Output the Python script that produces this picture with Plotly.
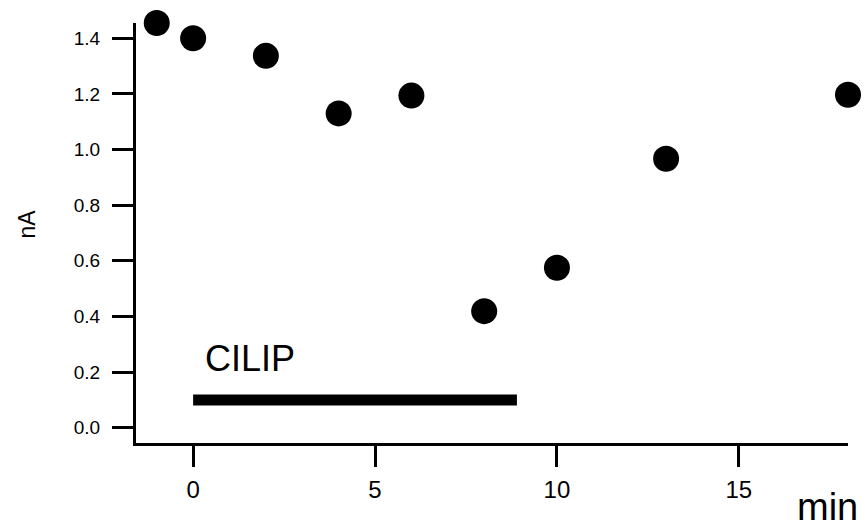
import plotly.graph_objects as go

# Data
time_min = [-1, 0, 2, 4, 6, 8, 10, 13, 18]
current_nA = [1.455, 1.40, 1.337, 1.13, 1.194, 0.419, 0.575, 0.967, 1.197]

# CILIP application period
cilip_start = 0
cilip_end = 8.9
cilip_level = 0.1
cilip_label = "CILIP"

x_ticks = [0, 5, 10, 15]
y_ticks = [0.0, 0.2, 0.4, 0.6, 0.8, 1.0, 1.2, 1.4]
y_tick_labels = ["0.0", "0.2", "0.4", "0.6", "0.8", "1.0", "1.2", "1.4"]

FONT = "Liberation Sans, Arial, sans-serif"

fig = go.Figure()

fig.add_trace(go.Scatter(
    x=[cilip_start, cilip_end], y=[cilip_level, cilip_level],
    mode="lines", line=dict(color="black", width=11),
    showlegend=False, hoverinfo="skip", cliponaxis=False,
))

fig.add_trace(go.Scatter(
    x=time_min, y=current_nA, mode="markers",
    marker=dict(color="black", size=26, line=dict(width=0)),
    showlegend=False, cliponaxis=False,
))

fig.add_annotation(
    x=cilip_start, y=cilip_level, xref="x", yref="y",
    text=cilip_label, showarrow=False, xanchor="left", yanchor="middle",
    xshift=10, yshift=41,
    font=dict(family=FONT, size=36, color="black"),
)

fig.add_annotation(
    x=1.0, y=0, xref="paper", yref="paper",
    text="min", showarrow=False, xanchor="right", yanchor="middle",
    xshift=12, yshift=-64,
    font=dict(family=FONT, size=38, color="black"),
)

fig.add_annotation(
    x=0, y=0.52, xref="paper", yref="paper",
    text="nA", showarrow=False, xanchor="center", yanchor="middle",
    xshift=-109, textangle=-90,
    font=dict(family=FONT, size=23, color="black"),
)

fig.update_xaxes(
    range=[-1.57, 18.0], tickvals=x_ticks, ticktext=[str(v) for v in x_ticks],
    showline=True, linecolor="black", linewidth=3,
    ticks="outside", ticklen=21, tickwidth=3, tickcolor="black",
    showgrid=False, zeroline=False,
    tickfont=dict(family=FONT, size=24, color="black"),
    ticklabelstandoff=2,
)
fig.update_yaxes(
    range=[-0.055, 1.455], tickvals=y_ticks, ticktext=y_tick_labels,
    showline=True, linecolor="black", linewidth=3,
    ticks="outside", ticklen=21, tickwidth=3, tickcolor="black",
    showgrid=False, zeroline=False,
    tickfont=dict(family=FONT, size=19, color="black"),
    ticklabelstandoff=8,
)

fig.update_layout(
    width=867, height=529,
    margin=dict(l=136, r=19, t=23, b=86),
    plot_bgcolor="white", paper_bgcolor="white",
)

fig.write_html(
    "out.html",
    config={"displayModeBar": False},
    post_script="document.body.style.margin='0';document.body.style.overflow='hidden';",
)
